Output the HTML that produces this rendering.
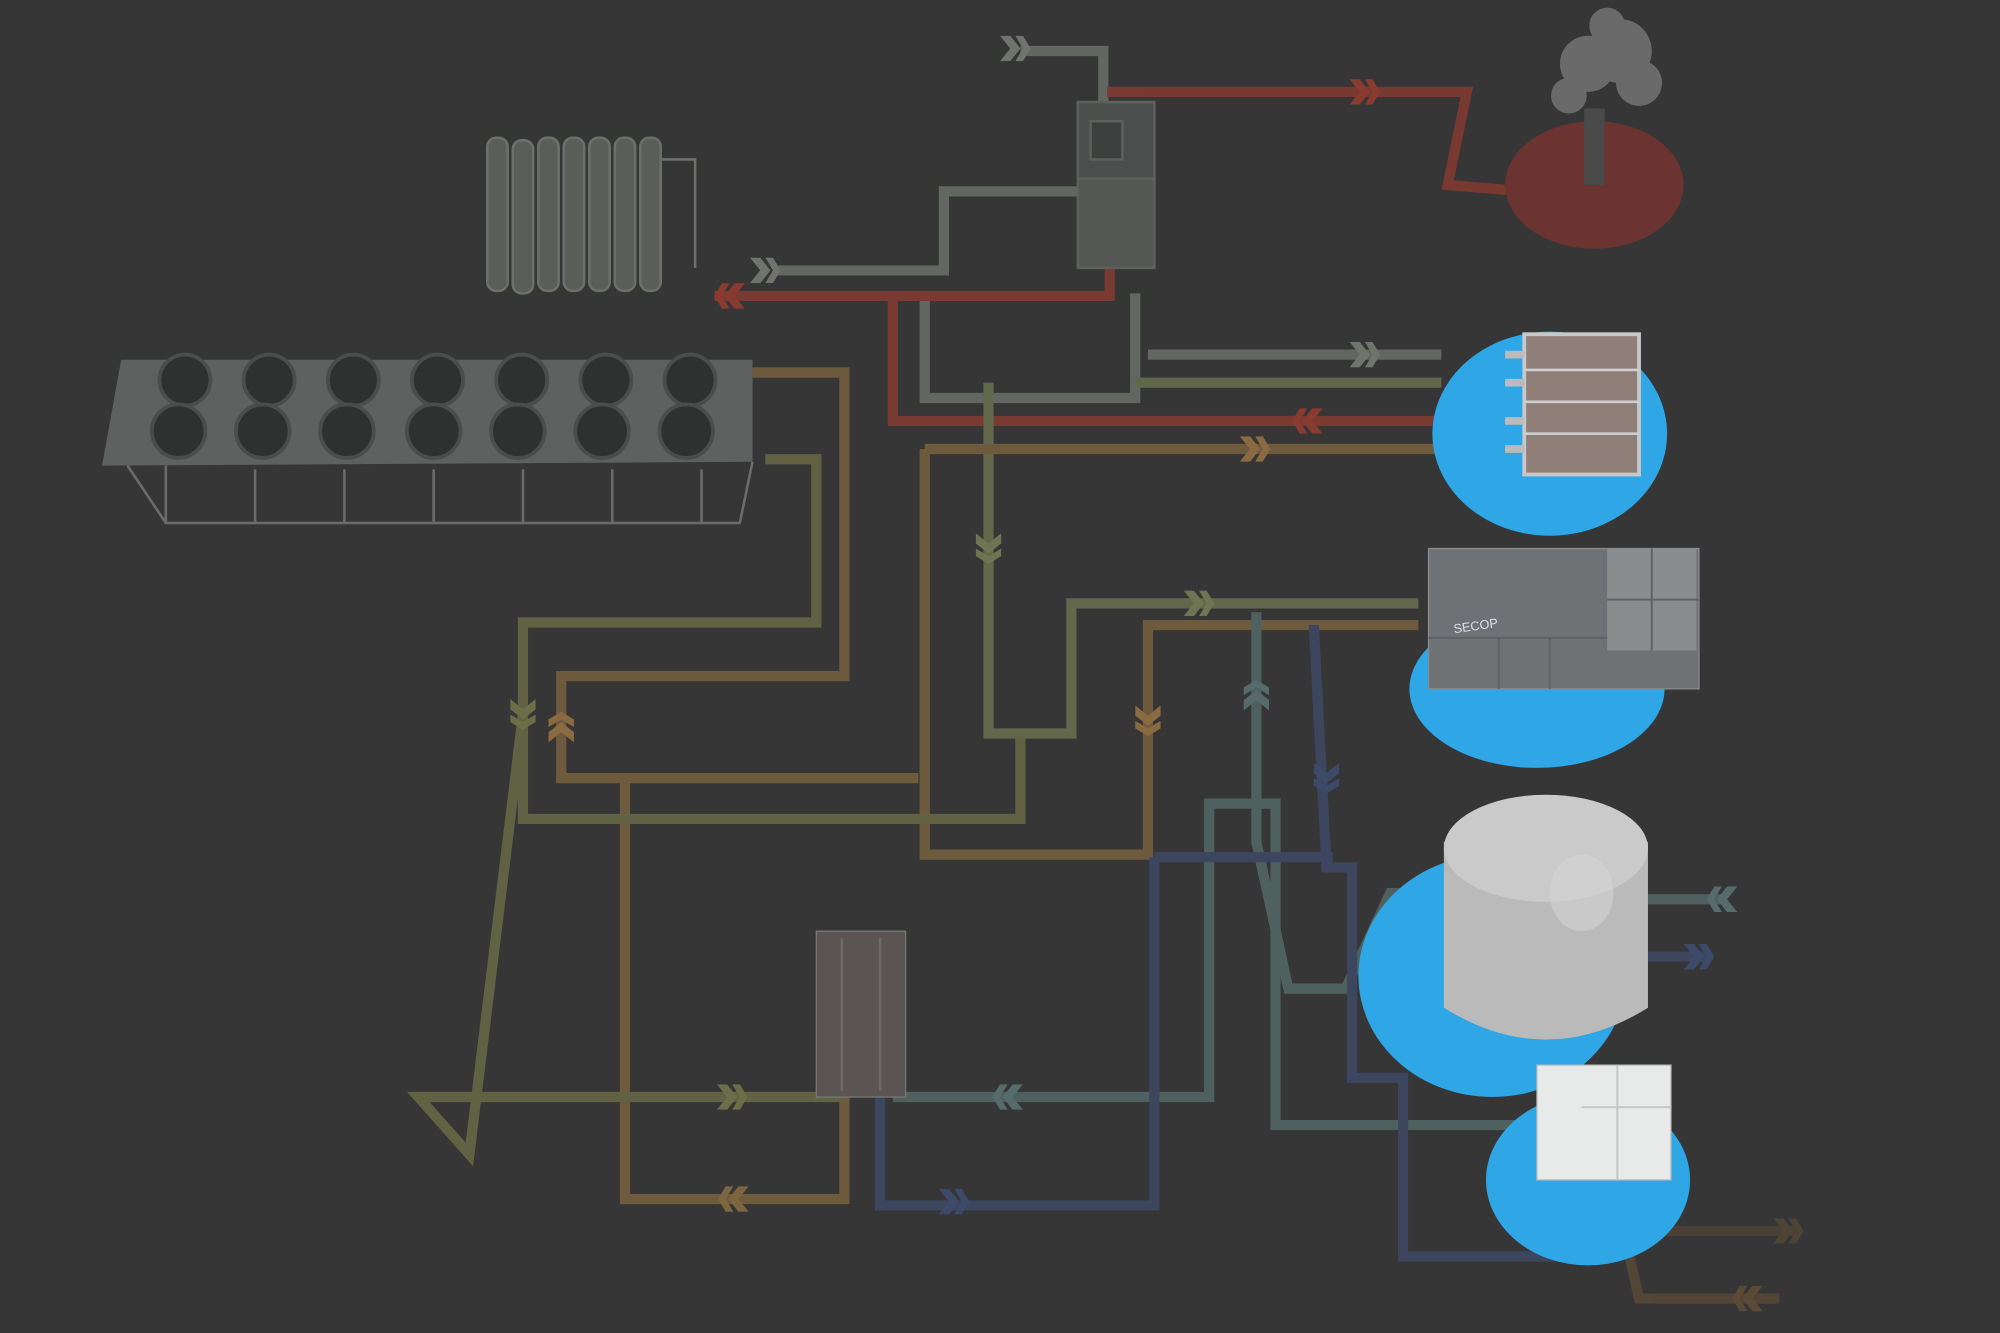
<!DOCTYPE html>
<html><head><meta charset="utf-8"><style>
html,body{margin:0;padding:0;background:#363636;width:2000px;height:1333px;overflow:hidden}
svg{display:block}
</style></head><body>
<svg width="2000" height="1333" viewBox="0 0 1568 1045" preserveAspectRatio="none" xmlns="http://www.w3.org/2000/svg">
<rect width="1568" height="1045" fill="#363636"/>
<defs>
<symbol id="chev" viewBox="-12 -10 24 20"><path d="M-12,-10 L-4,-10 L4,0 L-4,10 L-12,10 L-4,0Z M0,-10 L6,-10 L12,0 L6,10 L0,10 L6,0Z"/></symbol>
</defs>
<g fill="none" stroke-width="8" stroke-linejoin="miter" opacity="0.8">
<path stroke="#6f746c" d="M800,40 L865,40 L865,80"/>
<path stroke="#6f746c" d="M610,212 L740,212 L740,150 L865,150"/>
<path stroke="#6f746c" d="M900,278 L1130,278"/>
<path stroke="#6f746c" d="M725,230 L725,312 L890,312 L890,230"/>
<path stroke="#8a3b30" d="M868,72 L1150,72 L1135,145 L1195,150"/>
<path stroke="#8a3b30" d="M560,232 L870,232 L870,150"/>
<path stroke="#8a3b30" d="M700,232 L700,330 L1130,330"/>
<path stroke="#6f7552" d="M890,300 L1130,300"/>
<path stroke="#6f7552" d="M775,300 L775,575 L840,575 L840,473 L1112,473"/>
<path stroke="#7d6540" d="M725,352 L1130,352"/>
<path stroke="#7d6540" d="M725,352 L725,670 L900,670 L900,490 L1112,490"/>
<path stroke="#7d6540" d="M590,292 L662,292 L662,530 L440,530 L440,610 L720,610"/>
<path stroke="#7d6540" d="M490,610 L490,940 L662,940 L662,860"/>
<path stroke="#6c6e48" d="M600,360 L640,360 L640,488 L410,488 L410,642 L800,642 L800,578"/>
<path stroke="#6c6e48" d="M410,560 L368,905 L328,860 L660,860"/>
<path stroke="#556c6a" d="M700,860 L948,860 L948,630 L1000,630 L1000,882 L1240,882 L1240,960 L1260,960"/>
<path stroke="#556c6a" d="M985,480 L985,660 L1010,775 L1055,775 L1090,700 L1130,700"/>
<path stroke="#556c6a" d="M1290,705 L1350,705"/>
<path stroke="#3e4a6a" d="M1030,490 L1040,680 L1060,680 L1060,845 L1100,845 L1100,985 L1260,985"/>
<path stroke="#3e4a6a" d="M905,672 L905,945 L690,945 L690,860"/>
<path stroke="#3e4a6a" d="M905,672 L1045,672"/>
<path stroke="#3e4a6a" d="M1270,750 L1340,750"/>
<path stroke="#4e4436" d="M1275,930 L1290,965 L1410,965"/>
<path stroke="#5a4a36" d="M1265,930 L1285,1018 L1395,1018"/>
</g>
<g fill="#5a5d58" stroke="#6d706a" stroke-width="2">
<rect x="382" y="108" width="16" height="120" rx="7"/><rect x="402" y="110" width="16" height="120" rx="7"/>
<rect x="422" y="108" width="16" height="120" rx="7"/><rect x="442" y="108" width="16" height="120" rx="7"/>
<rect x="462" y="108" width="16" height="120" rx="7"/><rect x="482" y="108" width="16" height="120" rx="7"/>
<rect x="502" y="108" width="16" height="120" rx="7"/>
<path d="M518,125 L545,125 L545,210" fill="none"/>
</g>
<polygon points="95,282 590,282 590,362 80,365" fill="#5f6160"/>
<g stroke="#6a6c6a" stroke-width="2" fill="none"><path d="M100,365 L130,410 L580,410 L590,362 M130,365 L130,410 M200,368 L200,410 M270,368 L270,410 M340,368 L340,410 M410,368 L410,410 M480,368 L480,410 M550,368 L550,410"/></g>
<g fill="#2e3130" stroke="#4a4d4b" stroke-width="3">
<circle cx="145" cy="298" r="20"/><circle cx="211" cy="298" r="20"/><circle cx="277" cy="298" r="20"/><circle cx="343" cy="298" r="20"/><circle cx="409" cy="298" r="20"/><circle cx="475" cy="298" r="20"/><circle cx="541" cy="298" r="20"/>
<circle cx="140" cy="338" r="21"/><circle cx="206" cy="338" r="21"/><circle cx="272" cy="338" r="21"/><circle cx="340" cy="338" r="21"/><circle cx="406" cy="338" r="21"/><circle cx="472" cy="338" r="21"/><circle cx="538" cy="338" r="21"/>
</g>
<g fill="#4c4e4d" stroke="#5e605e" stroke-width="2"><rect x="845" y="80" width="60" height="60"/><rect x="845" y="140" width="60" height="70" fill="#555755"/>
<rect x="855" y="95" width="25" height="30" fill="#3e403f"/></g>
<ellipse cx="1250" cy="145" rx="70" ry="50" fill="#6b3430"/>
<g fill="#6a6a6a"><circle cx="1245" cy="50" r="22"/><circle cx="1270" cy="40" r="25"/><circle cx="1285" cy="65" r="18"/><circle cx="1230" cy="75" r="14"/><circle cx="1260" cy="20" r="14"/></g>
<rect x="1242" y="85" width="16" height="60" fill="#4a4a4a"/>
<ellipse cx="1215" cy="340" rx="92" ry="80" fill="#2fa6e6"/>
<rect x="1195" y="262" width="90" height="110" fill="#8f7f78" stroke="#c8c8c8" stroke-width="3"/>
<g stroke="#cfcfcf" stroke-width="2"><line x1="1195" y1="290" x2="1285" y2="290"/><line x1="1195" y1="315" x2="1285" y2="315"/><line x1="1195" y1="340" x2="1285" y2="340"/></g>
<g fill="#bbb"><rect x="1180" y="275" width="15" height="6"/><rect x="1180" y="297" width="15" height="6"/><rect x="1180" y="327" width="15" height="6"/><rect x="1180" y="349" width="15" height="6"/></g>
<ellipse cx="1205" cy="540" rx="100" ry="62" fill="#2fa6e6"/>
<rect x="1120" y="430" width="212" height="110" fill="#6f7275" stroke="#8a8c8e"/>
<rect x="1260" y="430" width="70" height="80" fill="#8a8c8e"/>
<g stroke="#5f6265" stroke-width="1.5"><line x1="1175" y1="500" x2="1175" y2="540"/><line x1="1215" y1="500" x2="1215" y2="540"/><line x1="1120" y1="500" x2="1260" y2="500"/><line x1="1295" y1="430" x2="1295" y2="510"/><line x1="1260" y1="470" x2="1332" y2="470"/></g>
<text x="1140" y="495" font-family="Liberation Sans, sans-serif" font-size="10" fill="#dde" transform="rotate(-8 1150 495)">SECOP</text>
<ellipse cx="1170" cy="765" rx="105" ry="95" fill="#2fa6e6"/>
<path d="M1132,660 L1132,790 Q1212,840 1292,790 L1292,660Z" fill="#b9bab9"/>
<ellipse cx="1212" cy="665" rx="80" ry="42" fill="#c9cac9"/>
<ellipse cx="1240" cy="700" rx="25" ry="30" fill="#d3d4d3" opacity="0.6"/>
<ellipse cx="1245" cy="925" rx="80" ry="67" fill="#2fa6e6"/>
<rect x="1205" y="835" width="105" height="90" fill="#e8eaea" stroke="#bbb"/>
<g stroke="#c4c6c6" stroke-width="1.5"><line x1="1268" y1="835" x2="1268" y2="925"/><line x1="1240" y1="868" x2="1310" y2="868"/></g>
<rect x="640" y="730" width="70" height="130" fill="#5a5552" stroke="#777"/>
<g stroke="#6e6865" stroke-width="2"><line x1="660" y1="735" x2="660" y2="855"/><line x1="690" y1="735" x2="690" y2="855"/></g>
<g>
<use href="#chev" x="784" y="28" width="24" height="20" fill="#6f746c"/>
<use href="#chev" x="1058" y="62" width="24" height="20" fill="#8a3b30"/>
<use href="#chev" x="588" y="202" width="24" height="20" fill="#6f746c"/>
<use href="#chev" x="1058" y="268" width="24" height="20" fill="#6f746c"/>
<use href="#chev" x="972" y="342" width="24" height="20" fill="#8a6a40"/>
<use href="#chev" x="928" y="463" width="24" height="20" fill="#6f7552"/>
<use href="#chev" x="562" y="850" width="24" height="20" fill="#6c6e48"/>
<use href="#chev" x="736" y="932" width="24" height="20" fill="#3e4a6a"/>
<use href="#chev" x="1320" y="740" width="24" height="20" fill="#3e4a6a"/>
<use href="#chev" x="1390" y="955" width="24" height="20" fill="#4e4436"/>
<g transform="rotate(180 1025 330)"><use href="#chev" x="1013" y="320" width="24" height="20" fill="#8a3b30"/></g>
<g transform="rotate(180 572 232)"><use href="#chev" x="560" y="222" width="24" height="20" fill="#8a3b30"/></g>
<g transform="rotate(180 790 860)"><use href="#chev" x="778" y="850" width="24" height="20" fill="#556c6a"/></g>
<g transform="rotate(180 575 940)"><use href="#chev" x="563" y="930" width="24" height="20" fill="#7d6540"/></g>
<g transform="rotate(180 1350 705)"><use href="#chev" x="1338" y="695" width="24" height="20" fill="#556c6a"/></g>
<g transform="rotate(180 1370 1018)"><use href="#chev" x="1358" y="1008" width="24" height="20" fill="#5a4a36"/></g>
<g transform="rotate(90 775 430)"><use href="#chev" x="763" y="420" width="24" height="20" fill="#6f7552"/></g>
<g transform="rotate(90 410 560)"><use href="#chev" x="398" y="550" width="24" height="20" fill="#6c6e48"/></g>
<g transform="rotate(90 900 565)"><use href="#chev" x="888" y="555" width="24" height="20" fill="#8a6a40"/></g>
<g transform="rotate(90 1040 610)"><use href="#chev" x="1028" y="600" width="24" height="20" fill="#3e4a6a"/></g>
<g transform="rotate(-90 440 570)"><use href="#chev" x="428" y="560" width="24" height="20" fill="#8a6a40"/></g>
<g transform="rotate(-90 985 545)"><use href="#chev" x="973" y="535" width="24" height="20" fill="#556c6a"/></g>
</g>
</svg>
</body></html>
